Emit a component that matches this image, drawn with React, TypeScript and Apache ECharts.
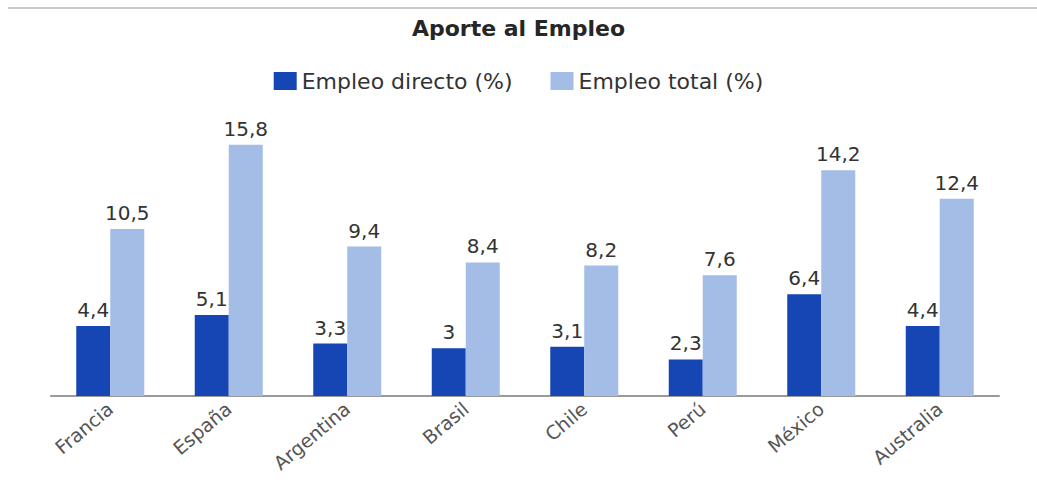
import React, { useEffect, useRef } from "react";
import * as echarts from "echarts";

const categories = ["Francia", "España", "Argentina", "Brasil", "Chile", "Perú", "México", "Australia"];
const empleoDirecto = [4.4, 5.1, 3.3, 3, 3.1, 2.3, 6.4, 4.4];
const empleoTotal = [10.5, 15.8, 9.4, 8.4, 8.2, 7.6, 14.2, 12.4];
const seriesNames = ["Empleo directo (%)", "Empleo total (%)"];
const titleText = "Aporte al Empleo";

const FONT = "'DejaVu Sans', Verdana, sans-serif";

export default function App() {
  const ref = useRef<HTMLDivElement>(null);
  useEffect(() => {
    if (!ref.current) return;
    const chart = echarts.init(ref.current, null, { renderer: "svg" });
    const fmt = (p: any) => String(p.value).replace(".", ",");
    chart.setOption({
      animation: false,
      backgroundColor: "#ffffff",
      title: {
        text: titleText,
        left: "center",
        top: 12,
        textStyle: { fontFamily: FONT, fontSize: 22, fontWeight: "bold", color: "#262626" },
      },
      legend: {
        top: 65,
        left: "center",
        itemWidth: 23,
        itemHeight: 18,
        itemGap: 38,
        icon: "rect",
        textStyle: { fontFamily: FONT, fontSize: 22, color: "#333" },
        data: seriesNames,
      },
      graphic: [
        {
          type: "rect",
          shape: { x: 8, y: 7, width: 1029, height: 2 },
          style: { fill: "#c8c8c8" },
        },
      ],
      grid: { left: 51, right: 38, top: 78, bottom: 105, containLabel: false },
      xAxis: {
        type: "category",
        data: categories,
        axisLine: { lineStyle: { color: "#999", width: 2 } },
        axisTick: { show: false },
        axisLabel: {
          rotate: 40,
          fontFamily: FONT,
          fontSize: 19,
          color: "#555",
          margin: 10,
        },
      },
      yAxis: {
        type: "value",
        min: 0,
        max: 20,
        show: false,
        splitLine: { show: false },
      },
      series: [
        {
          name: seriesNames[0],
          type: "bar",
          data: empleoDirecto,
          barWidth: 34,
          barGap: "0%",
          itemStyle: { color: "#1646b4" },
          label: { show: true, position: "top", formatter: fmt, fontFamily: FONT, fontSize: 20, color: "#333", distance: 6 },
        },
        {
          name: seriesNames[1],
          type: "bar",
          data: empleoTotal,
          barWidth: 34,
          barGap: "0%",
          itemStyle: { color: "#a4bde6" },
          label: { show: true, position: "top", formatter: fmt, fontFamily: FONT, fontSize: 20, color: "#333", distance: 6 },
        },
      ],
    });
    return () => chart.dispose();
  }, []);
  return <div ref={ref} style={{ position: "fixed", left: 0, top: 0, width: 1037, height: 501 }} />;
}
